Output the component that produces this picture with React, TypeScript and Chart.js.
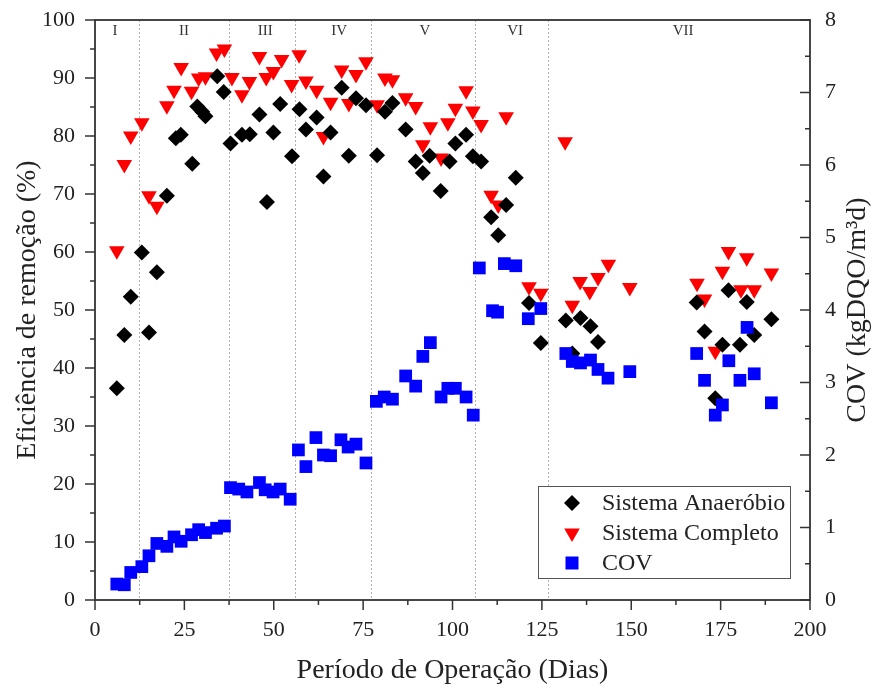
import React, { useEffect, useRef } from 'react';
import { Chart, registerables } from 'chart.js';

Chart.register(...registerables);

// ---- Data ----
const anaDays = [6.1, 8.2, 10.0, 13.1, 15.1, 17.3, 20.1, 22.6, 24.0, 27.2, 28.6, 30.0, 30.9, 34.2, 36.0, 37.9, 41.1, 43.3, 46.0, 48.1, 49.9, 51.8, 55.1, 57.2, 59.0, 62.0, 63.9, 65.9, 69.0, 71.0, 73.0, 75.8, 78.9, 81.1, 83.2, 86.9, 89.7, 91.7, 93.6, 96.7, 99.2, 100.8, 103.8, 105.7, 108.0, 110.8, 112.8, 115.0, 117.7, 121.4, 124.7, 131.7, 133.5, 135.8, 138.6, 140.7, 168.3, 170.5, 173.5, 175.5, 177.2, 180.4, 182.3, 184.4, 189.2];
const anaValues = [36.5, 45.7, 52.3, 59.9, 46.1, 56.5, 69.7, 79.6, 80.2, 75.2, 85.1, 84.2, 83.4, 90.3, 87.6, 78.7, 80.2, 80.3, 83.7, 68.6, 80.6, 85.5, 76.5, 84.6, 81.1, 83.2, 73.0, 80.6, 88.3, 76.6, 86.5, 85.3, 76.7, 84.2, 85.7, 81.1, 75.6, 73.6, 76.6, 70.5, 75.6, 78.7, 80.2, 76.5, 75.6, 66.0, 62.9, 68.1, 72.8, 51.2, 44.3, 48.2, 42.5, 48.6, 47.2, 44.5, 51.3, 46.3, 34.8, 44.0, 53.4, 44.0, 51.4, 45.7, 48.4];

const compDays = [6.1, 8.2, 10.0, 13.1, 15.1, 17.3, 20.1, 22.1, 24.1, 27.0, 29.0, 30.9, 34.0, 36.2, 38.3, 41.1, 43.2, 46.0, 47.9, 49.9, 52.2, 55.0, 57.1, 59.0, 62.0, 63.9, 65.9, 69.0, 71.0, 73.0, 75.8, 78.9, 81.1, 83.2, 86.9, 89.7, 91.7, 93.8, 96.8, 98.7, 100.8, 103.8, 105.7, 108.0, 110.8, 112.8, 115.0, 121.4, 124.7, 131.5, 133.5, 135.7, 138.4, 140.7, 143.6, 149.6, 168.4, 170.5, 173.5, 175.5, 177.2, 180.7, 182.3, 184.4, 189.2];
const compValues = [60.2, 75.1, 80.0, 82.3, 69.7, 67.9, 85.2, 87.9, 91.8, 87.7, 90.0, 90.2, 94.3, 95.0, 90.1, 87.1, 89.4, 93.7, 90.1, 91.1, 93.2, 88.9, 94.0, 89.5, 87.9, 79.9, 85.8, 91.4, 85.6, 90.6, 92.8, 85.4, 90.0, 89.7, 86.6, 85.1, 78.5, 81.6, 76.2, 82.3, 84.8, 87.8, 84.3, 82.0, 69.8, 68.1, 83.3, 54.0, 52.9, 79.0, 50.8, 54.9, 53.2, 55.6, 57.9, 53.9, 54.6, 51.9, 42.9, 56.7, 60.1, 53.5, 59.0, 53.5, 56.4];

const covDays = [6.1, 8.2, 10.0, 13.1, 15.1, 17.3, 20.1, 22.1, 24.1, 27.0, 29.0, 30.9, 34.0, 36.2, 37.9, 40.2, 42.5, 46.0, 47.6, 49.8, 51.8, 54.6, 56.9, 59.0, 61.8, 63.9, 65.9, 68.8, 70.8, 73.0, 75.8, 78.7, 80.9, 83.2, 86.9, 89.7, 91.7, 93.8, 96.8, 98.7, 100.8, 103.8, 105.8, 107.5, 111.2, 112.6, 114.5, 117.7, 121.2, 124.7, 131.7, 133.5, 135.8, 138.6, 140.7, 143.5, 149.6, 168.3, 170.5, 173.5, 175.5, 177.3, 180.4, 182.4, 184.4, 189.2];
const covValues = [0.22, 0.21, 0.38, 0.46, 0.61, 0.78, 0.74, 0.87, 0.81, 0.90, 0.97, 0.93, 0.99, 1.02, 1.55, 1.53, 1.49, 1.62, 1.52, 1.49, 1.53, 1.39, 2.07, 1.84, 2.24, 2.00, 1.99, 2.21, 2.11, 2.15, 1.89, 2.74, 2.80, 2.77, 3.09, 2.95, 3.36, 3.55, 2.80, 2.92, 2.92, 2.80, 2.55, 4.58, 3.99, 3.97, 4.64, 4.61, 3.88, 4.02, 3.40, 3.29, 3.27, 3.31, 3.18, 3.06, 3.15, 3.40, 3.03, 2.55, 2.69, 3.30, 3.03, 3.76, 3.12, 2.72];

const phaseBounds = [12.4, 37.6, 55.9, 77.1, 106.3, 126.8];
const phaseLabels = ['I', 'II', 'III', 'IV', 'V', 'VI', 'VII'];
const phaseLabelDays = [5.6, 24.9, 47.6, 68.3, 92.3, 117.5, 164.5];

const seriesNames = ['Sistema Anaeróbio', 'Sistema Completo', 'COV'];
const xTitle = 'Período de Operação (Dias)';
const yTitle = 'Eficiência de remoção (%)';
const y1Title = 'COV (kgDQO/m³d)';

const BLACK = '#000000';
const RED = '#ff0000';
const BLUE = '#0000ff';
const TEXT = '#222222';
const LINE = '#333333';
const SERIF = '"Liberation Serif", "Times New Roman", serif';

const toPoints = (xs: number[], ys: number[]) => xs.map((x, i) => ({ x, y: ys[i] }));

function drawMarker(ctx: CanvasRenderingContext2D, kind: string, x: number, y: number, color: string) {
  ctx.save();
  ctx.fillStyle = color;
  ctx.beginPath();
  if (kind === 'diamond') {
    const r = 8;
    ctx.moveTo(x - r, y); ctx.lineTo(x, y - r); ctx.lineTo(x + r, y); ctx.lineTo(x, y + r);
  } else if (kind === 'tri') {
    const r = 9;
    ctx.moveTo(x, y + r);
    ctx.lineTo(x - r * Math.sin(Math.PI / 3), y - r / 2);
    ctx.lineTo(x + r * Math.sin(Math.PI / 3), y - r / 2);
  } else {
    const h = 6.5;
    ctx.rect(x - h, y - h, 2 * h, 2 * h);
  }
  ctx.closePath();
  ctx.fill();
  ctx.restore();
}

const decorPlugin = {
  id: 'decor',
  beforeDatasetsDraw(chart: any) {
    const { ctx, chartArea } = chart;
    const xs = chart.scales.x;
    ctx.save();
    ctx.strokeStyle = '#b0b0b0';
    ctx.lineWidth = 1;
    ctx.setLineDash([2, 2]);
    phaseBounds.forEach((d) => {
      const px = Math.round(xs.getPixelForValue(d)) + 0.5;
      ctx.beginPath();
      ctx.moveTo(px, chartArea.top);
      ctx.lineTo(px, chartArea.bottom);
      ctx.stroke();
    });
    ctx.setLineDash([]);
    ctx.fillStyle = '#333';
    ctx.font = `15px ${SERIF}`;
    ctx.textAlign = 'center';
    ctx.textBaseline = 'middle';
    phaseLabels.forEach((t, i) => {
      ctx.fillText(t, xs.getPixelForValue(phaseLabelDays[i]), chartArea.top + 11);
    });
    ctx.restore();
  },
  afterDraw(chart: any) {
    const { ctx, chartArea } = chart;
    const { left, right, top, bottom } = chartArea;
    const xs = chart.scales.x, ys = chart.scales.y, y1 = chart.scales.y1;
    ctx.save();
    // frame
    ctx.strokeStyle = LINE;
    ctx.lineWidth = 1.8;
    ctx.strokeRect(left, top, right - left, bottom - top);
    // ticks
    ctx.lineWidth = 1.5;
    const line = (x1: number, yA: number, x2: number, yB: number) => {
      ctx.beginPath(); ctx.moveTo(x1, yA); ctx.lineTo(x2, yB); ctx.stroke();
    };
    const xStep = xs.options.ticks.stepSize;
    for (let v = xs.min; v <= xs.max + 1e-9; v += xStep / 2) {
      const px = xs.getPixelForValue(v);
      const major = Math.abs(v / xStep - Math.round(v / xStep)) < 1e-6;
      line(px, bottom, px, bottom + (major ? 10 : 5));
    }
    const yStep = ys.options.ticks.stepSize;
    for (let v = ys.min; v <= ys.max + 1e-9; v += yStep / 2) {
      const py = ys.getPixelForValue(v);
      const major = Math.abs(v / yStep - Math.round(v / yStep)) < 1e-6;
      line(left - (major ? 10 : 5), py, left, py);
    }
    const y1Step = y1.options.ticks.stepSize;
    for (let v = y1.min; v <= y1.max + 1e-9; v += y1Step / 2) {
      const py = y1.getPixelForValue(v);
      const major = Math.abs(v / y1Step - Math.round(v / y1Step)) < 1e-6;
      line(right - (major ? 10 : 5), py, right, py);
    }
    // right title (reads bottom-to-top)
    ctx.fillStyle = TEXT;
    ctx.font = `28px ${SERIF}`;
    ctx.textAlign = 'center';
    ctx.textBaseline = 'middle';
    ctx.translate(chart.width - 16, (top + bottom) / 2);
    ctx.rotate(-Math.PI / 2);
    ctx.fillText(y1Title, 0, 0);
    ctx.restore();

    // legend
    ctx.save();
    const boxW = 252, boxH = 92;
    const bx = right - 20 - boxW, by = bottom - 22 - boxH;
    ctx.fillStyle = '#ffffff';
    ctx.fillRect(bx, by, boxW, boxH);
    ctx.strokeStyle = '#555';
    ctx.lineWidth = 1;
    ctx.strokeRect(bx + 0.5, by + 0.5, boxW, boxH);
    const kinds = ['diamond', 'tri', 'square'];
    const colors = [BLACK, RED, BLUE];
    const rows = [17, 47, 77];
    ctx.font = `24px ${SERIF}`;
    ctx.fillStyle = TEXT;
    ctx.textAlign = 'left';
    ctx.textBaseline = 'middle';
    seriesNames.forEach((n, i) => {
      drawMarker(ctx, kinds[i], bx + 34, by + rows[i], colors[i]);
      ctx.fillStyle = TEXT;
      ctx.fillText(n, bx + 64, by + rows[i] + 1);
    });
    ctx.restore();
  },
};

export default function App() {
  const ref = useRef<HTMLCanvasElement | null>(null);
  useEffect(() => {
    if (!ref.current) return;
    const chart = new Chart(ref.current, {
      type: 'scatter',
      data: {
        datasets: [
          {
            label: seriesNames[0],
            data: toPoints(anaDays, anaValues),
            yAxisID: 'y',
            pointStyle: 'rectRot',
            pointRadius: 8,
            pointHoverRadius: 8,
            backgroundColor: BLACK,
            borderColor: BLACK,
            borderWidth: 0,
            order: 1,
          },
          {
            label: seriesNames[1],
            data: toPoints(compDays, compValues),
            yAxisID: 'y',
            pointStyle: 'triangle',
            rotation: 180,
            pointRotation: 180,
            pointRadius: 9,
            pointHoverRadius: 9,
            backgroundColor: RED,
            borderColor: RED,
            borderWidth: 0,
            order: 2,
          },
          {
            label: seriesNames[2],
            data: toPoints(covDays, covValues),
            yAxisID: 'y1',
            pointStyle: 'rect',
            pointRadius: 9,
            pointHoverRadius: 9,
            backgroundColor: BLUE,
            borderColor: BLUE,
            borderWidth: 0,
            order: 0,
          },
        ] as any,
      },
      options: {
        responsive: false,
        animation: false,
        events: [],
        layout: { padding: { top: 20, left: 0, right: 0, bottom: 0 } },
        plugins: { legend: { display: false }, tooltip: { enabled: false } },
        scales: {
          x: {
            type: 'linear',
            position: 'bottom',
            min: 0,
            max: 200,
            grid: { display: false, drawTicks: true, tickLength: 17 },
            border: { display: false },
            ticks: { stepSize: 25, color: TEXT, font: { family: SERIF, size: 22 }, padding: 0 },
            title: { display: true, text: xTitle, color: TEXT, font: { family: SERIF, size: 28 }, padding: { top: 0, bottom: 4 } },
            afterFit: (s: any) => { s.height = 91; },
          },
          y: {
            type: 'linear',
            position: 'left',
            min: 0,
            max: 100,
            grid: { display: false, drawTicks: true, tickLength: 20 },
            border: { display: false },
            ticks: { stepSize: 10, color: TEXT, font: { family: SERIF, size: 22 }, padding: 0 },
            title: { display: true, text: yTitle, color: TEXT, font: { family: SERIF, size: 28 }, padding: { top: 11, bottom: 0 } },
            afterFit: (s: any) => { s.width = 95; },
          },
          y1: {
            type: 'linear',
            position: 'right',
            min: 0,
            max: 8,
            grid: { display: false, drawTicks: true, tickLength: 15 },
            border: { display: false },
            ticks: { stepSize: 1, color: TEXT, font: { family: SERIF, size: 22 }, padding: 0 },
            afterFit: (s: any) => { s.width = 64; },
          },
        },
      } as any,
      plugins: [decorPlugin],
    });
    return () => chart.destroy();
  }, []);
  return (
    <div style={{ position: 'fixed', left: 0, top: 0, width: 874, height: 691, background: '#fff' }}>
      <canvas ref={ref} width={874} height={691} style={{ display: 'block' }} />
    </div>
  );
}
